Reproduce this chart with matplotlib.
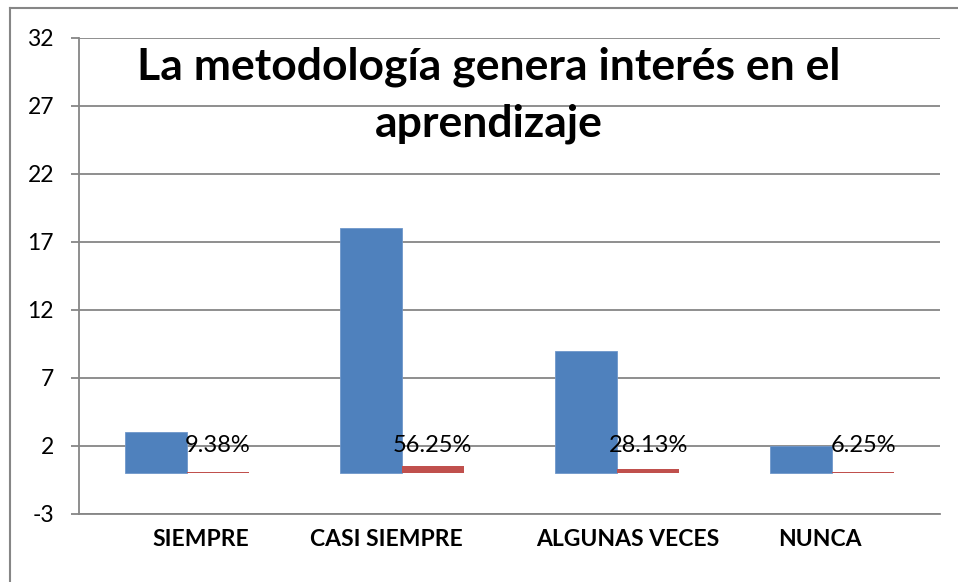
import matplotlib
matplotlib.use("Agg")
import matplotlib.pyplot as plt
import matplotlib.transforms as mtransforms
from matplotlib.lines import Line2D
import numpy as np

categories = ["SIEMPRE", "CASI SIEMPRE", "ALGUNAS VECES", "NUNCA"]
counts = [3, 18, 9, 2]
shares = [0.0938, 0.5625, 0.2813, 0.0625]
share_labels = ["9.38%", "56.25%", "28.13%", "6.25%"]
yticks = [-3, 2, 7, 12, 17, 22, 27, 32]
title = "La metodología genera interés en el\naprendizaje"

plt.rcParams['font.family'] = ['Lato', 'DejaVu Sans']

fig = plt.figure(figsize=(9.58, 5.82), dpi=100)
ax = fig.add_axes([79/958, 1-514/582, 861/958, 476/582])

x = np.arange(len(categories))
w = 0.288
blue = "#4F81BD"
red = "#C0504D"
grid = "#868686"

ax.bar(x - w/2, counts, w, color=blue, edgecolor="#6F97CA", linewidth=0.6, zorder=3)
ax.bar(x + w/2, shares, w, color=red, zorder=3)

for xi, yv, lab in zip(x, [2.0]*4, share_labels):
    ax.text(xi + w/2, yv, lab, ha="center", va="center", fontsize=17, color="black", zorder=4)

ax.set_xlim(-0.5, 3.5)
ax.set_ylim(-3, 32)
ax.set_yticks(yticks)
ax.set_yticklabels([str(t) for t in yticks], fontsize=16.5)
ax.yaxis.grid(True, color=grid, linewidth=1.3, zorder=0)
ax.set_axisbelow(True)

ax.set_xticks(x)
ax.set_xticklabels(categories, fontsize=16.5, fontweight="bold")
ax.tick_params(axis="x", length=0, pad=11)
ax.tick_params(axis="y", length=6, width=1.3, color=grid, pad=12)

offsets_px = [14, -15, 11, -12]
for lab, dx in zip(ax.get_xticklabels(), offsets_px):
    lab.set_transform(lab.get_transform() + mtransforms.ScaledTranslation(dx/100, 0, fig.dpi_scale_trans))

for s in ["top", "right"]:
    ax.spines[s].set_visible(False)
for s in ["left", "bottom"]:
    ax.spines[s].set_color(grid)
    ax.spines[s].set_linewidth(1.3)

fig.text(489/958, 1-95/582, title, ha="center", va="center", fontsize=32,
         fontweight="bold", linespacing=1.5)

# outer chart border (top and left visible)
fig.add_artist(Line2D([10/958, 1.0], [1-8/582, 1-8/582], transform=fig.transFigure, color=grid, linewidth=1.5))
fig.add_artist(Line2D([10/958, 10/958], [0.0, 1-8/582], transform=fig.transFigure, color=grid, linewidth=1.5))

fig.savefig("out.png", dpi=100)
